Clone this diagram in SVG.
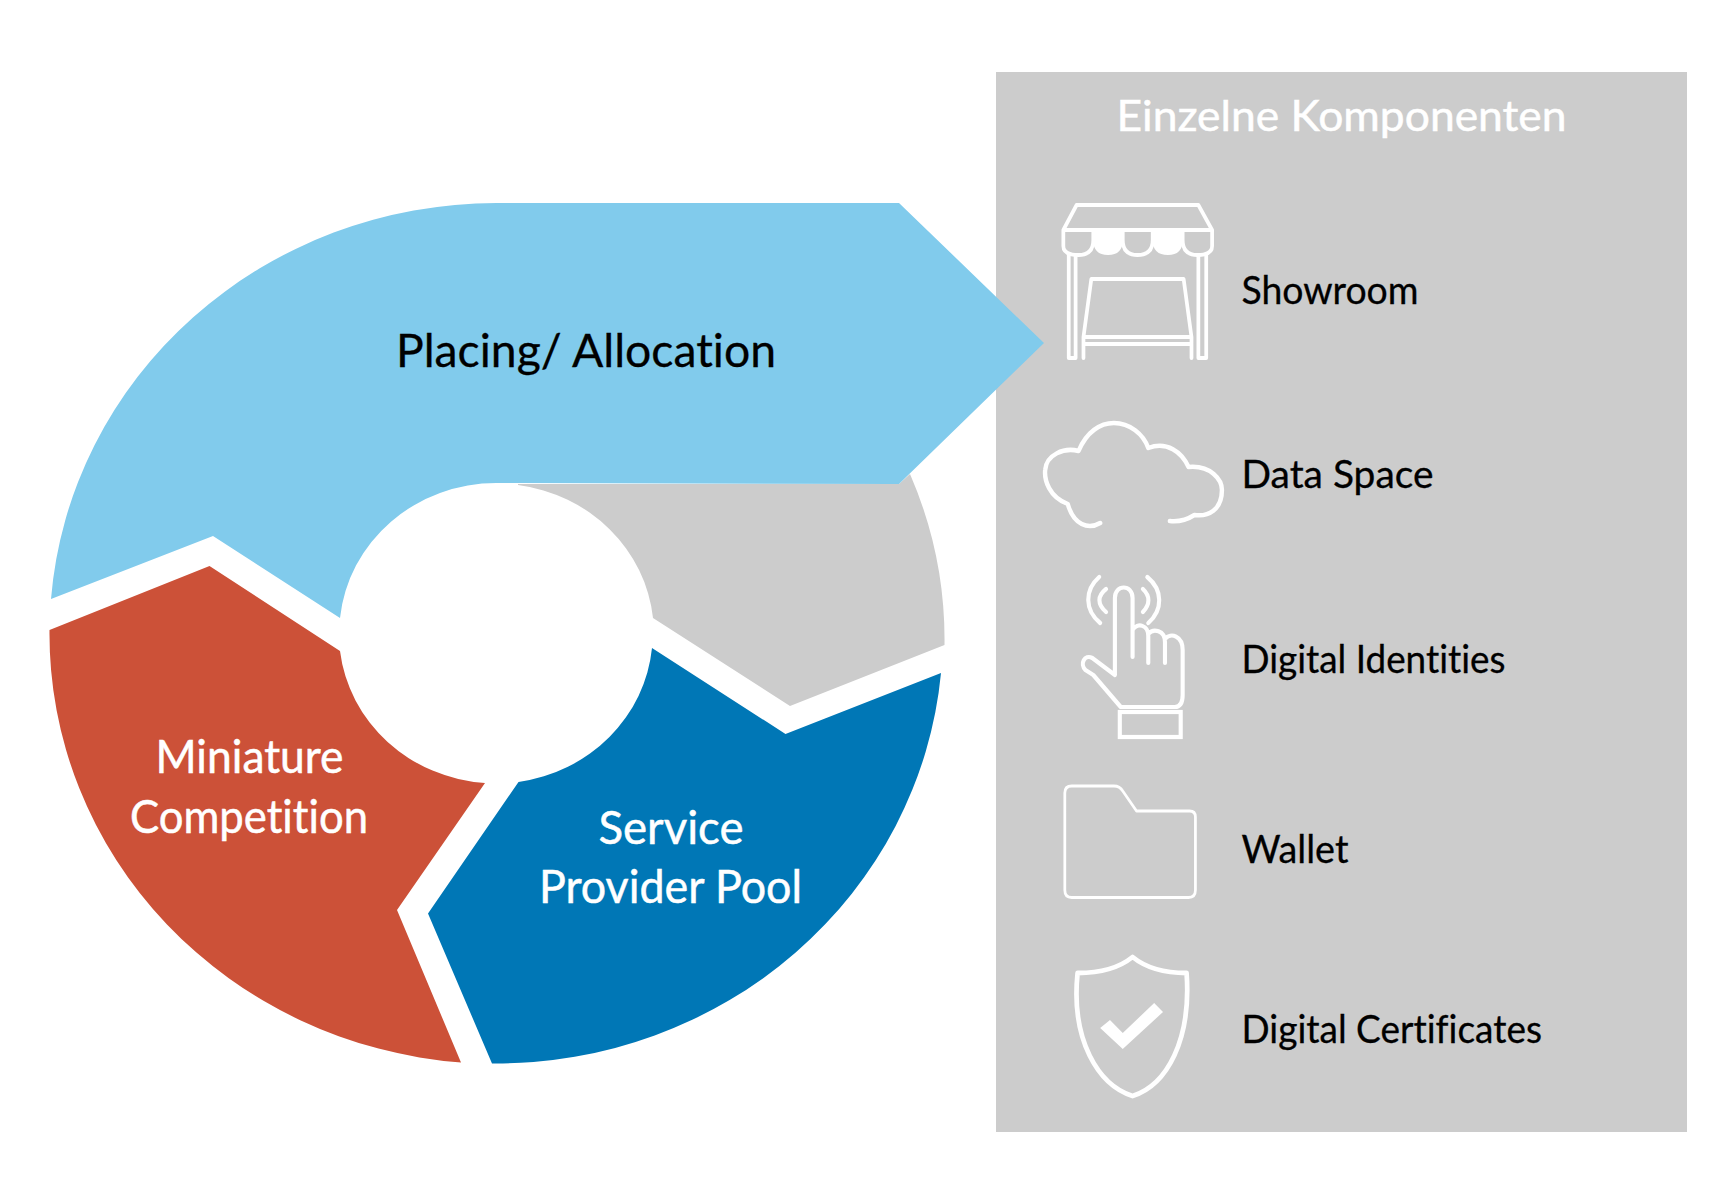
<svg xmlns="http://www.w3.org/2000/svg" width="1730" height="1204" viewBox="0 0 1730 1204">
<style>
text{font-family:"Lato","Liberation Sans",sans-serif;font-variant-ligatures:none}
.dark{fill:#000;stroke:#000;stroke-width:.3}.light{fill:#fff;stroke:#fff;stroke-width:.5}
.big{font-size:46px}.item{font-size:38px}
.ic{fill:none;stroke:#fff;stroke-width:3.800;stroke-linecap:round;stroke-linejoin:round}
</style>
<rect width="1730" height="1204" fill="#fff"/>
<g id="panel"><rect x="996" y="72" width="691" height="1060" fill="#ccc"/>
<text class="light" x="1116.5" y="131" font-size="43" textLength="450" lengthAdjust="spacingAndGlyphs">Einzelne Komponenten</text></g>
<g id="segment-gray"><path d="M518 484L899 484L910 474A447 430 0 0 1 944.500 645L790 706L653 618A157 150 0 0 0 518 485Z" fill="#ccc"/></g>
<g id="segment-placing"><path d="M51 599A447 430 0 0 1 496.500 203L899 203L1044 343L899 484L518.500 483L496.500 483A157 150 0 0 0 340 618L213 536Z" fill="#81cbec"/>
<text class="dark big" x="396" y="367" textLength="380" lengthAdjust="spacingAndGlyphs">Placing/ Allocation</text></g>
<g id="segment-miniature"><path d="M49.500 630L209.500 566L340 651A157 150 0 0 0 485 783L397 910L461 1062.500A447 430 0 0 1 49.500 630Z" fill="#cc5138"/>
<text class="light big" x="155.500" y="772.500" textLength="188" lengthAdjust="spacingAndGlyphs">Miniature</text>
<text class="light big" x="130" y="832.500" textLength="238" lengthAdjust="spacingAndGlyphs">Competition</text></g>
<g id="segment-service"><path d="M652 648L785.500 734L941 673A447 430 0 0 1 492 1063.500L428 913.500L518.500 782A157 150 0 0 0 652 648Z" fill="#0077b6"/>
<text class="light big" x="598.500" y="843.500" textLength="145" lengthAdjust="spacingAndGlyphs">Service</text>
<text class="light big" x="539" y="903" textLength="263" lengthAdjust="spacingAndGlyphs">Provider Pool</text></g>
<g id="showroom">
<g transform="translate(1000 0) scale(.982 1) translate(-1000 0)">
<path class="ic" d="M1078 205H1202L1216 230V246Q1216 255 1201 255Q1186 255 1186 240V230M1078 205L1064.500 230V246Q1064.500 255 1080 255Q1095 255 1095 240V230M1064.500 230H1216M1125 230V240Q1125 255 1140 255Q1155.500 255 1155.500 240V230"/>
<path d="M1095 230V240Q1095 255 1110 255Q1125 255 1125 240V230ZM1155.500 230V240Q1155.500 255 1171 255Q1186 255 1186 240V230Z" fill="#fff"/>
<path class="ic" d="M1070 255V358H1077V255M1202 255V358H1210V255M1085 358V337L1093 279H1187L1195 337V358M1085 337H1195M1085 344H1195"/>
</g>
<text class="dark item" x="1241.500" y="303.500" textLength="177" lengthAdjust="spacingAndGlyphs">Showroom</text></g>
<g id="data-space">
<path class="ic" style="stroke-width:4.500" transform="translate(1000 0) scale(.982 1) translate(-1000 0)" d="M1102 523C1090 530 1075 525 1069 504C1050 497 1045 480 1046 470C1047 455 1065 447 1080 451C1088 432 1102 423 1116 423C1132 423 1146 434 1151 448C1170 441 1185 452 1192 467C1215 465 1226 480 1226 490C1226 510 1212 517 1198 515C1190 520 1183 522 1173 521"/>
<text class="dark item" x="1241.500" y="488" textLength="192" lengthAdjust="spacingAndGlyphs">Data Space</text></g>
<g id="digital-identities">
<g transform="translate(1000 0) scale(.982 1) translate(-1000 0)">
<path class="ic" style="stroke-width:4.200" d="M1117 675V598C1117 584 1135 584 1135 598V657M1135 630C1140 622 1151 625 1151 636V663M1151 634C1156 628 1168 630 1168 642V663M1168 639C1174 632 1186 636 1186 650V695C1186 703 1183 707 1178 707H1123L1095 675L1087 670C1081 664 1086 654 1094 658L1117 675M1101 577C1086 590 1086 610 1102 623M1108 589C1099 596 1099 604 1108 612M1145.500 589C1153 596 1153 604 1145.500 612M1150 577C1166 590 1166 610 1151 623"/>
<rect class="ic" style="stroke-linecap:butt;stroke-linejoin:miter;stroke-width:4.200" x="1122" y="712" width="62" height="25"/>
</g>
<text class="dark item" x="1241.500" y="673" textLength="264" lengthAdjust="spacingAndGlyphs">Digital Identities</text></g>
<g id="wallet">
<path class="ic" style="stroke-width:2.800" transform="translate(1000 0) scale(.982 1) translate(-1000 0)" d="M1073 786H1116Q1122 786 1125 791L1139 811H1193Q1199 811 1199 817V890Q1199 897.500 1192 897.500H1073Q1066 897.500 1066 890V793Q1066 786 1073 786Z"/>
<text class="dark item" x="1241.500" y="863" textLength="107" lengthAdjust="spacingAndGlyphs">Wallet</text></g>
<g id="digital-certificates">
<g transform="translate(1000 0) scale(.982 1) translate(-1000 0)">
<path class="ic" style="stroke-width:4.800" d="M1135 957Q1155 973 1190 973C1195 1040 1170 1085 1135 1096C1100 1085 1072 1040 1079 973Q1115 973 1135 957Z"/>
<path d="M1102 1028L1112 1020L1125 1033L1157 1003L1166 1012L1125 1049Z" fill="#fff"/>
</g>
<text class="dark item" x="1241.500" y="1043" textLength="300.500" lengthAdjust="spacingAndGlyphs">Digital Certificates</text></g>
<g id="connectors"/>
</svg>
